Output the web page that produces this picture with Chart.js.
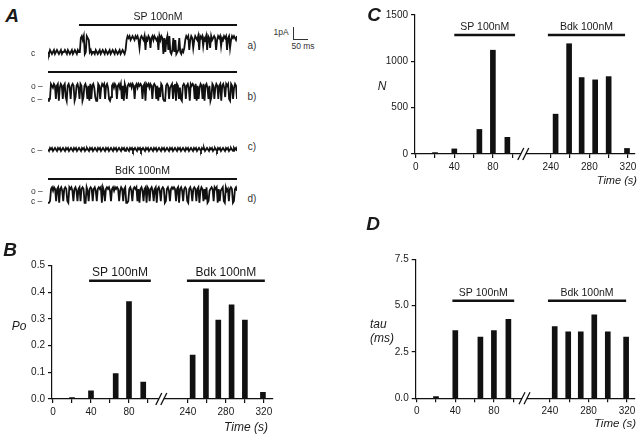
<!DOCTYPE html>
<html>
<head>
<meta charset="utf-8">
<script src="https://cdn.jsdelivr.net/npm/chart.js@4.4.1/dist/chart.umd.min.js"></script>
<style>
  body { margin: 0; background: #fff; }
  #fig { position: relative; width: 640px; height: 436px; overflow: hidden; font-family: "Liberation Sans", Arial, sans-serif; color: #1a1a1a; }
  canvas { position: absolute; }
  .lbl { position: absolute; white-space: nowrap; line-height: 1; transform: translate(-50%, -50%); }
  .r { transform: translate(-100%, -50%); }
  .l { transform: translate(0, -50%); }
  .big { font-size: 19px; font-weight: bold; font-style: italic; }
  .ax { font-size: 12px; font-style: italic; }
  .sm { font-size: 8.5px; color: #333; }
  .tag { font-size: 10px; color: #333; }
</style>
</head>
<body>
<div id="fig">
  <canvas id="traces" width="189" height="210" style="left:48px;top:0"></canvas>
  <canvas id="poChart" width="290" height="186" style="left:0;top:250px"></canvas>
  <canvas id="nChart" width="290" height="200" style="left:350px;top:0"></canvas>
  <canvas id="tauChart" width="290" height="200" style="left:350px;top:236px"></canvas>

  <div class="lbl big" style="left:12px;top:15px">A</div>
  <div class="lbl big" style="left:10px;top:249px">B</div>
  <div class="lbl big" style="left:374px;top:13.5px">C</div>
  <div class="lbl big" style="left:373px;top:223px">D</div>

  <div class="lbl sm" style="left:33px;top:53px">c</div>
  <div class="lbl l sm" style="left:31px;top:86px">o –</div>
  <div class="lbl l sm" style="left:31px;top:98.5px">c –</div>
  <div class="lbl l sm" style="left:31px;top:150px">c –</div>
  <div class="lbl l sm" style="left:31px;top:190.5px">o –</div>
  <div class="lbl l sm" style="left:31px;top:201px">c –</div>

  <div class="lbl tag" style="left:252px;top:46px">a)</div>
  <div class="lbl tag" style="left:252px;top:97px">b)</div>
  <div class="lbl tag" style="left:252px;top:147px">c)</div>
  <div class="lbl tag" style="left:252px;top:199px">d)</div>

  <div class="lbl sm" style="left:281px;top:31.5px">1pA</div>
  <div style="position:absolute;left:293px;top:27px;width:14px;height:12px;border-left:1px solid #333;border-bottom:1px solid #333"></div>
  <div class="lbl sm" style="left:303px;top:46px">50 ms</div>

  <div class="lbl ax" style="left:19px;top:326px">Po</div>
  <div class="lbl ax" style="left:382px;top:86px">N</div>
  <div class="lbl l ax" style="left:370px;top:324px">tau</div>
  <div class="lbl l ax" style="left:370px;top:338px">(ms)</div>
  <div class="lbl r ax" style="left:268px;top:427px">Time (s)</div>
  <div class="lbl r ax" style="left:637px;top:180px;font-size:11px">Time (s)</div>
  <div class="lbl r ax" style="left:636px;top:424px;font-size:11.5px">Time (s)</div>
</div>

<script>
// time points (s) of the analysed stretches
const times = [20, 40, 66, 80, 95, 245, 259, 272, 286, 300, 319];
const openProb = [0.005, 0.031, 0.095, 0.365, 0.063, 0.165, 0.413, 0.296, 0.353, 0.296, 0.025];
const eventCount = [15, 55, 265, 1120, 180, 430, 1190, 825, 800, 835, 60];
const tauMs = [0.09, 3.65, 3.3, 3.65, 4.26, 3.87, 3.58, 3.58, 4.5, 3.58, 3.3];

const xTicks = [0, 20, 40, 60, 80, 100, 240, 260, 280, 300, 320];
const xLabels = ['0', '', '40', '', '80', '', '240', '', '280', '', '320'];
const poTicks = [0, 0.1, 0.2, 0.3, 0.4, 0.5];
const nTicks = [0, 500, 1000, 1500];
const tauTicks = [0, 2.5, 5, 7.5];

// drug application windows (s)
const spB = [38, 103], bdkB = [239, 321];
const spC = [40, 103], bdkC = [237, 317];
const spD = [37, 101], bdkD = [238, 319];

// single channel records, 0-2 closed, 7-9 open (digit / 8 of unit amplitude)
const traceMs = 671;
const traceA = '10210120121012011210210120121021' + '18979019871201' +
  '102101201210210120121021012012102' + '7989789879897' +
  '3898792879838979878297980817929' + '102817012810213' +
  '79892798379879298948792983978982798948798928937989879';
const traceB = '0119879818907981892089718980289719802897180918972009817989189710289798189791809718989798189798981890989798189818072981008981789189098171089818970989819081798190897180298179818908972989109817981';
const traceC = '1021201210212012102120121021201210212012102120121021201210212012102120121021201210212012102120121021201210212012102120121021201210212012102120121021201210212012102120121021201210212012102120';
const traceD = '0018979818908971898109897189718918980097189818971898909718989718979898179818900189718989180897189098189718908971898018971898981890897189810897189818907981829017898198908178910978189801897';
const ampPA = [1.33, 1.25, 1.0, 1.15];
const spA = [110, 671], ctlB = [0, 671], bdkA = [0, 671];

// layout of the stacked traces (pA offset of closed level, pixel row of the bars)
const traceBase = [-4.5, -8.4, -12.58, -16.9];
const barRowA = [25, 72, 179];

Chart.defaults.font.family = '"Liberation Sans", Arial, sans-serif';

const traceMarks = {
  id: 'traceMarks',
  afterDraw(chart) {
    const { ctx, scales: { x } } = chart;
    const wins = [spA, ctlB, bdkA];
    const names = ['SP 100nM', '', 'BdK 100nM'];
    ctx.save();
    ctx.strokeStyle = '#111';
    ctx.fillStyle = '#1a1a1a';
    ctx.lineWidth = 2;
    ctx.font = '10.5px "Liberation Sans", Arial, sans-serif';
    ctx.textAlign = 'center';
    ctx.textBaseline = 'middle';
    wins.forEach((w, k) => {
      const x0 = x.getPixelForValue(w[0]);
      const x1 = x.getPixelForValue(w[1]);
      const y = barRowA[k];
      ctx.beginPath();
      ctx.moveTo(x0, y);
      ctx.lineTo(x1, y);
      ctx.stroke();
      if (names[k]) ctx.fillText(names[k], (x0 + x1) / 2, y - 8);
    });
    ctx.restore();
  }
};

new Chart(document.getElementById('traces').getContext('2d'), {
  type: 'line',
  data: {
    datasets: [traceA, traceB, traceC, traceD].map((s, k) => ({
      data: s.split('').map((c, i, a) => ({
        x: i / (a.length - 1) * traceMs,
        y: traceBase[k] + Number(c) / 8 * ampPA[k]
      })),
      borderColor: '#111',
      borderWidth: 1.8,
      pointRadius: 0,
      tension: 0,
      clip: false
    }))
  },
  options: {
    responsive: false,
    animation: false,
    layout: { padding: 0 },
    plugins: { legend: { display: false }, tooltip: { enabled: false } },
    scales: {
      x: { type: 'linear', min: 0, max: traceMs, display: false },
      y: { min: -17.5, max: 0, display: false }
    }
  },
  plugins: [traceMarks]
});

function barPanel(id, values, yTicks, yFmt, cfg) {
  const toAxis = t => (t < 200 ? t : t - 240 + cfg.off);

  const decor = {
    id: 'decor',
    afterDraw(chart) {
      const { ctx, scales: { x, y } } = chart;
      ctx.save();
      ctx.strokeStyle = '#111';
      ctx.fillStyle = '#1a1a1a';
      ctx.font = cfg.font + 'px "Liberation Sans", Arial, sans-serif';
      ctx.textAlign = 'center';
      ctx.textBaseline = 'middle';
      [[cfg.sp, 'SP 100nM'], [cfg.bdk, 'Bdk 100nM']].forEach(([w, name]) => {
        const x0 = x.getPixelForValue(toAxis(w[0]));
        const x1 = x.getPixelForValue(toAxis(w[1]));
        const yy = y.getPixelForValue(cfg.barY);
        ctx.lineWidth = 2.5;
        ctx.beginPath();
        ctx.moveTo(x0, yy);
        ctx.lineTo(x1, yy);
        ctx.stroke();
        ctx.fillText(name, (x0 + x1) / 2, yy - 8);
      });
      // axis break
      const bx = x.getPixelForValue(cfg.brk);
      const by = y.getPixelForValue(0);
      ctx.fillStyle = '#fff';
      ctx.fillRect(bx - 2.5, by - 2, 5, 4);
      ctx.lineWidth = 1.3;
      [-2.5, 2.5].forEach(d => {
        ctx.beginPath();
        ctx.moveTo(bx + d - 3, by + 6);
        ctx.lineTo(bx + d + 3, by - 6);
        ctx.stroke();
      });
      ctx.restore();
    }
  };

  return new Chart(document.getElementById(id).getContext('2d'), {
    type: 'bar',
    data: {
      datasets: [{
        data: times.map((t, i) => ({ x: toAxis(t), y: values[i] })),
        backgroundColor: '#111',
        barThickness: 5
      }]
    },
    options: {
      responsive: false,
      animation: false,
      layout: { padding: cfg.pad },
      plugins: { legend: { display: false }, tooltip: { enabled: false } },
      scales: {
        x: {
          type: 'linear',
          min: cfg.xMin,
          max: cfg.xMax,
          offset: false,
          afterBuildTicks: s => { s.ticks = xTicks.map(t => ({ value: toAxis(t) })); },
          afterFit: s => { s.height = 20; },
          ticks: {
            autoSkip: false, maxRotation: 0, padding: 3, color: '#1a1a1a',
            font: { size: 10 },
            callback: (v, i) => xLabels[i]
          },
          grid: { drawOnChartArea: false, tickLength: 4, color: '#111', lineWidth: 1.2, offset: false },
          border: { color: '#111', width: 1.2 }
        },
        y: {
          min: yTicks[0],
          max: yTicks[yTicks.length - 1],
          afterBuildTicks: s => { s.ticks = yTicks.map(v => ({ value: v })); },
          afterFit: s => { s.width = cfg.yw; },
          ticks: { padding: 3, color: '#1a1a1a', font: { size: 10 }, callback: yFmt },
          grid: { drawOnChartArea: false, tickLength: 4, color: '#111', lineWidth: 1.2 },
          border: { color: '#111', width: 1.2 }
        }
      }
    },
    plugins: [decor]
  });
}

barPanel('poChart', openProb, poTicks, v => v.toFixed(1), {
  off: 142, xMin: -1.05, xMax: 231.6, yw: 52, brk: 114,
  pad: { top: 15.7, right: 17, bottom: 17, left: 0 },
  sp: spB, bdk: bdkB, barY: 0.444, font: 12
});

barPanel('nChart', eventCount, nTicks, v => String(v), {
  off: 140, xMin: -0.73, xMax: 227.3, yw: 65, brk: 111.5,
  pad: { top: 15, right: 5, bottom: 26, left: 0 },
  sp: spC, bdk: bdkC, barY: 1284, font: 10.5
});

barPanel('tauChart', tauMs, tauTicks, v => v.toFixed(1), {
  off: 138, xMin: -1.04, xMax: 226.2, yw: 65.7, brk: 111.7,
  pad: { top: 23.3, right: 5, bottom: 17.7, left: 0 },
  sp: spD, bdk: bdkD, barY: 5.27, font: 10.5
});
</script>
</body>
</html>
